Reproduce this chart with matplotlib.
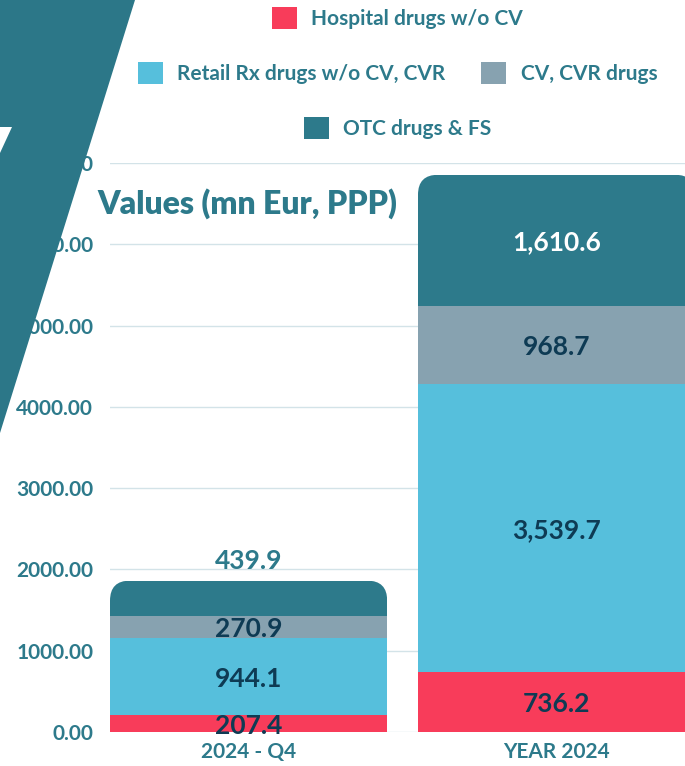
import matplotlib.pyplot as plt
import numpy as np
from matplotlib.patches import Patch, FancyBboxPatch, Polygon

# Values (mn Eur, PPP)
categories = ['2024 - Q4', 'YEAR 2024']
series = ['Hospital drugs w/o CV', 'Retail Rx drugs w/o CV, CVR', 'CV, CVR drugs', 'OTC drugs & FS']
hospital = [207.4, 736.2]
retail = [944.1, 3539.7]
cv = [270.9, 968.7]
otc = [439.9, 1610.6]
yticks = [0, 1000, 2000, 3000, 4000, 5000, 6000, 7000]

colors = ['#f83c5a', '#56bfdc', '#87a2b0', '#2d7a8b']
teal = '#2d7a8b'
navy = '#0e3b54'

plt.rcParams['font.family'] = ['Lato', 'DejaVu Sans']

W, H = 685, 766
fig = plt.figure(figsize=(W / 100, H / 100), dpi=100)
ax = fig.add_axes([110 / W, 1 - 732 / H, 1 - 110 / W, (732 - 163) / H])

x = np.arange(len(categories))
width = 0.9
xlim = (-0.45, 1.417)
ylim = (0, 7000)

data = np.array([hospital, retail, cv, otc])
bottoms = np.vstack([np.zeros(len(categories)), np.cumsum(data, axis=0)[:-1]])
totals = data.sum(axis=0)

# rounded top corners: clip each stack with a rounded box
ax_w_px = W - 110
ax_h_px = 732 - 163
px_x = ax_w_px / (xlim[1] - xlim[0])
px_y = ax_h_px / (ylim[1] - ylim[0])
r = 20 / px_x
clips = []
for i in range(len(categories)):
    cp = FancyBboxPatch((x[i] - width / 2, -2000), width, totals[i] + 2000,
                        boxstyle=f'round,pad=0,rounding_size={r}',
                        mutation_aspect=px_x / px_y, transform=ax.transData)
    clips.append(cp)

for k in range(len(series)):
    bars = ax.bar(x, data[k], width, bottom=bottoms[k], color=colors[k], zorder=2, linewidth=0)
    for i, b in enumerate(bars):
        b.set_clip_path(clips[i])

# value labels
for k in range(len(series)):
    for i in range(len(categories)):
        v = data[k][i]
        lab = f'{v:,.1f}'
        if k == len(series) - 1 and v < 1000:
            ax.annotate(lab, (x[i], totals[i]), xytext=(0, 14), textcoords='offset points',
                        ha='center', va='center', fontsize=19, color=teal, fontweight='bold', zorder=4)
        else:
            c = 'white' if k == len(series) - 1 else navy
            ax.text(x[i], bottoms[k][i] + v / 2, lab, ha='center', va='center_baseline',
                    fontsize=19, color=c, fontweight='bold', zorder=4)

ax.set_xlim(*xlim)
ax.set_ylim(*ylim)
ax.set_yticks(yticks)
ax.set_yticklabels([f'{t:.2f}' for t in yticks])
ax.set_xticks(x)
ax.set_xticklabels(categories)
ax.tick_params(axis='y', length=0, pad=12, labelsize=15, labelcolor=teal)
ax.tick_params(axis='x', length=0, pad=7, labelsize=15, labelcolor=teal)
for lbl in ax.get_yticklabels() + ax.get_xticklabels():
    lbl.set_fontweight('bold')
ax.grid(axis='y', color='#d3e3e8', linewidth=1, zorder=0)
ax.set_axisbelow(True)
for s in ax.spines.values():
    s.set_visible(False)

fig.text(97 / W, 1 - 204 / H, 'Values (mn Eur, PPP)', fontsize=23, fontweight='heavy',
         color=teal, ha='left', va='center')

# legend in three rows
handles = [Patch(facecolor=c, edgecolor='none') for c in colors]
rows = [([0], 18), ([1, 2], 73), ([3], 128)]
for idx, yy in rows:
    leg = fig.legend([handles[j] for j in idx], [series[j] for j in idx], loc='center',
                     bbox_to_anchor=(397.5 / W, 1 - yy / H), ncol=len(idx), frameon=False,
                     fontsize=15, handlelength=1.2, handleheight=1.2, handletextpad=0.7,
                     columnspacing=1.7, borderpad=0, borderaxespad=0)
    for t in leg.get_texts():
        t.set_color(teal)
        t.set_fontweight('bold')

# decorative corner shape
fig.patches.append(Polygon([(0, 1), (135 / W, 1), (0, 1 - 433 / H)], closed=True,
                           facecolor='#2c7788', edgecolor='none', transform=fig.transFigure,
                           zorder=10, figure=fig))
fig.patches.append(Polygon([(0, 1 - 127 / H), (12 / W, 1 - 127 / H), (0, 1 - 153 / H)], closed=True,
                           facecolor='white', edgecolor='none', transform=fig.transFigure,
                           zorder=11, figure=fig))

fig.savefig('out.png', dpi=100)
